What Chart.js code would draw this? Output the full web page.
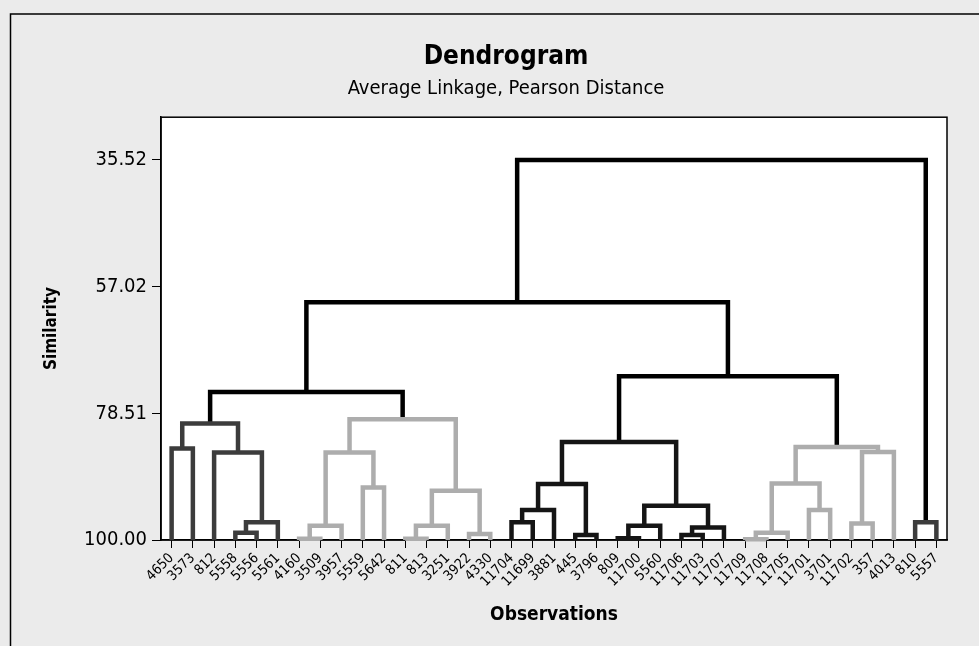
<!DOCTYPE html>
<html>
<head>
<meta charset="utf-8">
<script src="https://cdn.jsdelivr.net/npm/chart.js@4"></script>
<style>
  html, body { margin: 0; padding: 0; background: #ebebeb; }
</style>
</head>
<body>
<canvas id="dendro" width="979" height="646"></canvas>
<script>
// leaf order along the x axis
const leaves = ['4650', '3573', '812', '5558', '5556', '5561', '4160', '3509', '3957', '5559',
  '5642', '811', '813', '3251', '3922', '4330', '11704', '11699', '3881', '445',
  '3796', '809', '11700', '5560', '11706', '11703', '11707', '11709', '11708', '11705',
  '11701', '3701', '11702', '357', '4013', '810', '5557'];

const similarityTicks = [35.52, 57.02, 78.51, 100.00];

// merge steps: [left child, right child, similarity, cluster]
// a child is a leaf label or 'm<n>' for an earlier merge
const merges = [
  ['4650', '3573', 84.48, 'c1'],   // m0
  ['5558', '5556', 98.76, 'c1'],   // m1
  ['m1', '5561', 97.00, 'c1'],     // m2
  ['812', 'm2', 85.16, 'c1'],      // m3
  ['m0', 'm3', 80.25, 'c1'],       // m4
  ['4160', '3509', 99.80, 'c2'],   // m5
  ['m5', '3957', 97.58, 'c2'],     // m6
  ['5559', '5642', 91.08, 'c2'],   // m7
  ['m6', 'm7', 85.16, 'c2'],       // m8
  ['811', '813', 99.80, 'c2'],     // m9
  ['m9', '3251', 97.58, 'c2'],     // m10
  ['3922', '4330', 98.98, 'c2'],   // m11
  ['m10', 'm11', 91.66, 'c2'],     // m12
  ['m8', 'm12', 79.53, 'c2'],      // m13
  ['m4', 'm13', 74.90, 'top'],     // m14
  ['11704', '11699', 97.00, 'c3'], // m15
  ['m15', '3881', 94.92, 'c3'],    // m16
  ['445', '3796', 99.15, 'c3'],    // m17
  ['m16', 'm17', 90.52, 'c3'],     // m18
  ['809', '11700', 99.70, 'c3'],   // m19
  ['m19', '5560', 97.58, 'c3'],    // m20
  ['11706', '11703', 99.15, 'c3'], // m21
  ['m21', '11707', 97.86, 'c3'],   // m22
  ['m20', 'm22', 94.20, 'c3'],     // m23
  ['m18', 'm23', 83.37, 'c3'],     // m24
  ['11709', '11708', 99.88, 'c4'], // m25
  ['m25', '11705', 98.76, 'c4'],   // m26
  ['11701', '3701', 94.92, 'c4'],  // m27
  ['m26', 'm27', 90.41, 'c4'],     // m28
  ['11702', '357', 97.18, 'c4'],   // m29
  ['m29', '4013', 85.05, 'c4'],    // m30
  ['m28', 'm30', 84.21, 'c4'],     // m31
  ['m24', 'm31', 72.20, 'top'],    // m32
  ['m14', 'm32', 59.68, 'top'],    // m33
  ['810', '5557', 97.00, 'c5'],    // m34
  ['m33', 'm34', 35.52, 'top']     // m35
];

const clusterColors = {
  top: '#000000',
  c1: '#3c3c3c',
  c2: '#adadad',
  c3: '#151515',
  c4: '#adadad',
  c5: '#3c3c3c'
};

const FONT = '"DejaVu Sans Condensed", "DejaVu Sans", Tahoma, sans-serif';

// position and height of every node
const nodes = {};
leaves.forEach((name, i) => { nodes[name] = { x: i, y: 100 }; });

const datasets = merges.map((m, i) => {
  const a = nodes[m[0]];
  const b = nodes[m[1]];
  nodes['m' + i] = { x: (a.x + b.x) / 2, y: m[2] };
  return {
    data: [
      { x: a.x, y: a.y },
      { x: a.x, y: m[2] },
      { x: b.x, y: m[2] },
      { x: b.x, y: b.y }
    ],
    borderColor: clusterColors[m[3]],
    borderWidth: 4.5,
    borderJoinStyle: 'miter',
    borderCapStyle: 'butt',
    pointRadius: 0,
    tension: 0,
    fill: false,
    clip: false
  };
});

const framePlugin = {
  id: 'frame',
  beforeDraw(chart) {
    const { ctx, chartArea: a, width, height } = chart;
    ctx.save();
    ctx.fillStyle = '#ebebeb';
    ctx.fillRect(0, 0, width, height);
    ctx.strokeStyle = '#000';
    ctx.lineWidth = 1.5;
    ctx.beginPath();
    ctx.moveTo(10.5, height);
    ctx.lineTo(10.5, 14);
    ctx.lineTo(width, 14);
    ctx.stroke();
    ctx.fillStyle = '#fff';
    ctx.fillRect(a.left, a.top, a.right - a.left, a.bottom - a.top);
    ctx.restore();
  },
  beforeDatasetsDraw(chart) {
    const { ctx, chartArea: a } = chart;
    ctx.save();
    ctx.strokeStyle = '#000';
    ctx.lineWidth = 1.5;
    ctx.strokeRect(a.left, a.top, a.right - a.left, a.bottom - a.top);
    ctx.restore();
  }
};

new Chart(document.getElementById('dendro'), {
  type: 'line',
  data: { datasets },
  options: {
    responsive: false,
    animation: false,
    events: [],
    layout: { padding: { left: 33, right: 0, top: 0, bottom: 0 } },
    plugins: {
      legend: { display: false },
      tooltip: { enabled: false },
      title: {
        display: true,
        text: 'Dendrogram',
        color: '#000',
        font: { family: FONT, size: 26, weight: 'bold' },
        padding: { top: 42, bottom: 0 }
      },
      subtitle: {
        display: true,
        text: 'Average Linkage, Pearson Distance',
        color: '#000',
        font: { family: FONT, size: 20 },
        padding: { top: 4, bottom: 16 }
      }
    },
    scales: {
      x: {
        type: 'linear',
        min: -0.5,
        max: leaves.length - 0.5,
        afterBuildTicks: s => { s.ticks = leaves.map((_, i) => ({ value: i })); },
        afterFit: s => { s.height = 106; },
        ticks: {
          autoSkip: false,
          minRotation: 45,
          maxRotation: 45,
          padding: 2,
          color: '#000',
          font: { family: FONT, size: 14 },
          callback: v => leaves[v]
        },
        grid: { drawOnChartArea: false, tickLength: 8, color: '#000' },
        border: { color: '#000', width: 1.5 },
        title: {
          display: true,
          text: 'Observations',
          color: '#000',
          font: { family: FONT, size: 19, weight: 'bold' },
          padding: { top: 0, bottom: 19.6 }
        }
      },
      y: {
        type: 'linear',
        reverse: true,
        min: 28.27,
        max: 100,
        afterBuildTicks: s => { s.ticks = similarityTicks.map(v => ({ value: v })); },
        afterFit: s => { s.width = 128; },
        ticks: {
          padding: 5,
          color: '#000',
          font: { family: FONT, size: 20 },
          callback: v => v.toFixed(2)
        },
        grid: { drawOnChartArea: false, tickLength: 9, color: '#000' },
        border: { color: '#000', width: 1.5 },
        title: {
          display: true,
          text: 'Similarity',
          color: '#000',
          font: { family: FONT, size: 17, weight: 'bold' },
          padding: { top: 8.5, bottom: 0 }
        }
      },
      spacer: {
        type: 'linear',
        position: 'right',
        afterFit: s => { s.width = 32; },
        ticks: { display: false },
        grid: { display: false },
        border: { display: false }
      }
    }
  },
  plugins: [framePlugin]
});
</script>
</body>
</html>
